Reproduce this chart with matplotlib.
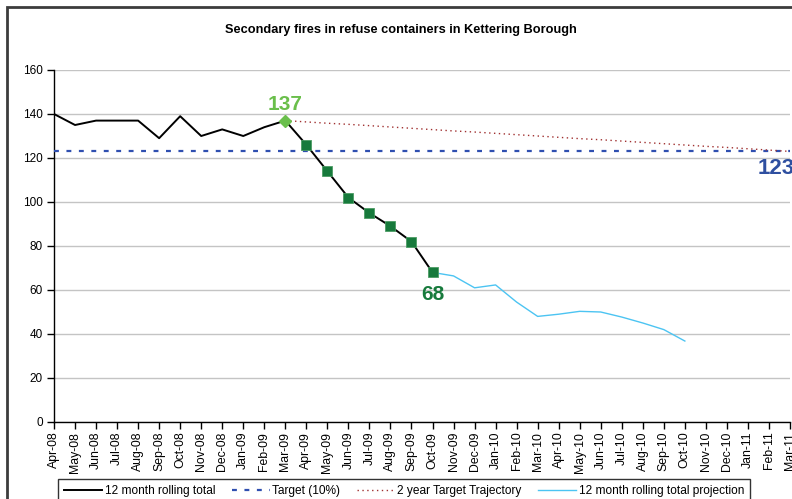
import numpy as np
import matplotlib
matplotlib.use("Agg")
import matplotlib.pyplot as plt
from matplotlib.patches import Rectangle

plt.rcParams['font.family'] = ['Liberation Sans', 'DejaVu Sans']

months = ["Apr-08", "May-08", "Jun-08", "Jul-08", "Aug-08", "Sep-08", "Oct-08", "Nov-08",
          "Dec-08", "Jan-09", "Feb-09", "Mar-09", "Apr-09", "May-09", "Jun-09", "Jul-09",
          "Aug-09", "Sep-09", "Oct-09", "Nov-09", "Dec-09", "Jan-10", "Feb-10", "Mar-10",
          "Apr-10", "May-10", "Jun-10", "Jul-10", "Aug-10", "Sep-10", "Oct-10", "Nov-10",
          "Dec-10", "Jan-11", "Feb-11", "Mar-11"]

rolling_total = [140, 135, 137, 137, 137, 129, 139, 130, 133, 130, 134, 137,
                 126, 114, 102, 95, 89, 82, 68]
target = [123] * 36
trajectory = [137, 136.4, 135.8, 135.3, 134.7, 134.1, 133.5, 132.9, 132.3, 131.8,
              131.2, 130.6, 130.0, 129.4, 128.8, 128.3, 127.7, 127.1, 126.5, 125.9,
              125.3, 124.8, 124.2, 123.6, 123.0]
projection = [68, 66.4, 61, 62.3, 54.5, 48, 49, 50.3, 50, 47.7, 45, 42, 36.8]

n = len(months)
x = np.arange(n)
x_roll = x[:len(rolling_total)]
x_traj = x[11:11 + len(trajectory)]
x_proj = x[18:18 + len(projection)]

fig = plt.figure(figsize=(7.92, 4.99), dpi=100)
ax = fig.add_axes([54/792, 1-422/499, (790-54)/792, (422-70)/499])

ax.set_xlim(0, n - 1)
ax.set_ylim(0, 160)
ax.set_yticks(np.arange(0, 161, 20))
ax.yaxis.grid(True, color='#c4c4c4', lw=1)
ax.set_axisbelow(True)
for s in ['top', 'right']:
    ax.spines[s].set_visible(False)
ax.spines['left'].set_linewidth(1)
ax.spines['bottom'].set_linewidth(1)

l1, = ax.plot(x_roll, rolling_total, color='black', lw=1.4, label='12 month rolling total', zorder=4)
l2, = ax.plot(x, target, color='#2f4fb0', lw=1.6, dashes=(2.2, 3.4), label='Target (10%)', zorder=3)
l3, = ax.plot(x_traj, trajectory, color='#a03030', lw=1.0, dashes=(1, 2.5), label='2 year Target Trajectory', zorder=3)
l4, = ax.plot(x_proj, projection, color='#4cc4f2', lw=1.0, label='12 month rolling total projection', zorder=3)

ax.plot(x_roll[11:12], rolling_total[11:12], marker='D', ms=6, color='#6abf4b', mec='#6abf4b', ls='none', zorder=5)
ax.plot(x_roll[12:], rolling_total[12:], marker='s', ms=6.5, color='#177a3c', mec='#4c9c64', mew=0.6, ls='none', zorder=5)

ax.annotate('137', (x_roll[11], rolling_total[11]), xytext=(0, 5), textcoords='offset points',
            ha='center', va='bottom', fontsize=15, fontweight='bold', color='#6abf4b')
ax.annotate('68', (x_roll[18], rolling_total[18]), xytext=(0, -9), textcoords='offset points',
            ha='center', va='top', fontsize=15, fontweight='bold', color='#177a3c')
ax.annotate('123', (x[-1], target[-1]), xytext=(-10, -5), textcoords='offset points',
            ha='center', va='top', fontsize=16, fontweight='bold', color='#2e4fa0', annotation_clip=False)

ax.set_xticks(x)
ax.set_xticklabels(months, rotation=90, fontsize=8.8)
ax.tick_params(axis='x', direction='out', length=5, width=1, pad=2)
ax.tick_params(axis='y', direction='out', length=5, width=1, labelsize=8.5, pad=3)

fig.text(401/792, 1-30/499, 'Secondary fires in refuse containers in Kettering Borough',
         ha='center', va='center', fontsize=9.2, fontweight='bold')

leg = fig.legend(handles=[l1, l2, l3, l4], loc='upper left',
                 bbox_to_anchor=(58/792, 1-479/499 - 0.06, (750-58)/792, 0.06),
                 mode='expand', ncol=4, fontsize=8.6, frameon=True, fancybox=False,
                 edgecolor='black', handlelength=3.2, handletextpad=0.2, borderaxespad=0,
                 borderpad=0.5)
leg.get_frame().set_linewidth(1)

fig.patches.append(Rectangle((7/792, -0.2), 1.3, 1-7/499 + 0.2, transform=fig.transFigure,
                             fill=False, edgecolor='#3c3c3c', lw=2, zorder=0))

fig.savefig('out.png', dpi=100)
